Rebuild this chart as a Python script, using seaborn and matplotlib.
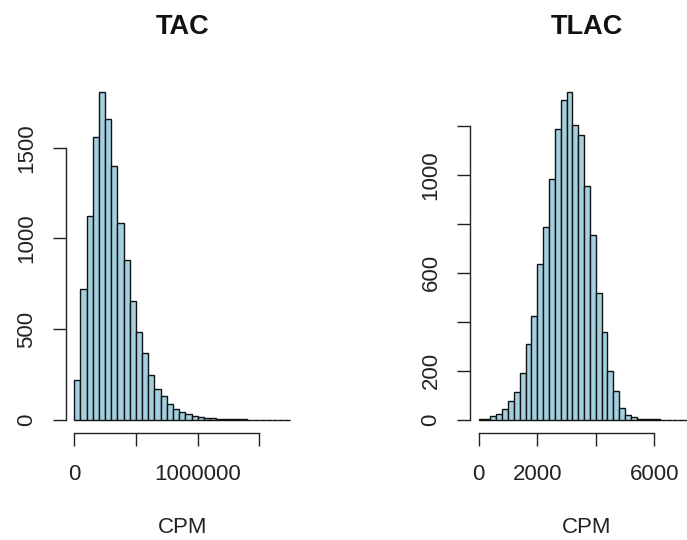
import matplotlib
matplotlib.use("Agg")
import matplotlib.pyplot as plt
import numpy as np
import pandas as pd
import seaborn as sns

# Histogram counts (R base hist style)
tac_start = 0
tac_width = 50000
tac_counts = [220, 722, 1123, 1562, 1807, 1658, 1397, 1085, 879, 658, 487, 370,
              245, 171, 134, 88, 61, 42, 33, 24, 18, 11, 8, 6, 5, 4, 3, 3, 2, 2,
              2, 1, 1, 1, 1]
tac_xticks = [0, 500000, 1000000, 1500000]
tac_xlabels = ["0", "", "1000000", ""]
tac_yticks = [0, 500, 1000, 1500]
tac_ylabels = ["0", "500", "1000", "1500"]

tlac_start = 0
tlac_width = 200
tlac_counts = [2, 4, 16, 24, 45, 76, 115, 193, 309, 424, 635, 786, 982, 1186,
               1303, 1337, 1204, 1161, 953, 753, 519, 357, 198, 119, 49, 19, 11,
               5, 3, 2, 2, 1, 1, 1, 0, 1, 1]
tlac_xticks = [0, 2000, 4000, 6000]
tlac_xlabels = ["0", "2000", "", "6000"]
tlac_yticks = [0, 200, 400, 600, 800, 1000, 1200]
tlac_ylabels = ["0", "200", "", "600", "", "1000", ""]

sns.set_style("white")
plt.rcParams["font.family"] = ["Liberation Sans", "DejaVu Sans"]

BAR = "#A3CFDF"
W, H = 687, 540

fig = plt.figure(figsize=(W / 100, H / 100), dpi=100)


def draw_panel(rect, start, width, counts, title, xticks, xlabels, yticks, ylabels):
    ax = fig.add_axes([rect[0] / W, 1 - rect[3] / H, (rect[2] - rect[0]) / W,
                       (rect[3] - rect[1]) / H])
    n = len(counts)
    edges = [start + width * i for i in range(n + 1)]
    df = pd.DataFrame({"mid": [e + width / 2 for e in edges[:-1]],
                       "count": counts})
    sns.histplot(data=df, x="mid", weights="count", bins=edges, ax=ax,
                 color=BAR, edgecolor="#111111", linewidth=1.0, alpha=1)
    lo, hi = edges[0], edges[-1]
    r = hi - lo
    ax.set_xlim(lo - 0.04 * r, hi + 0.04 * r)
    ymax = max(counts)
    ax.set_ylim(-0.04 * ymax, 1.04 * ymax)

    for s in ["top", "right"]:
        ax.spines[s].set_visible(False)
    for s in ["left", "bottom"]:
        ax.spines[s].set_color("#222222")
        ax.spines[s].set_linewidth(1.0)
    ax.spines["left"].set_bounds(yticks[0], yticks[-1])
    ax.spines["bottom"].set_bounds(xticks[0], xticks[-1])

    ax.set_xticks(xticks)
    ax.set_xticklabels(xlabels)
    ax.set_yticks(yticks)
    ax.set_yticklabels(ylabels, rotation=90, va="center")
    ax.tick_params(axis="both", direction="out", length=9.5, width=1.0,
                   color="#222222", labelsize=16, labelcolor="#222222",
                   left=True, bottom=True)
    ax.tick_params(axis="x", pad=13)
    ax.tick_params(axis="y", pad=11)

    ax.set_ylabel("")
    ax.set_xlabel("CPM", fontsize=16, color="#222222")
    ax.xaxis.set_label_coords(0.5, -0.268)
    ax.xaxis.label.set_va("center")
    ax.text(0.5, 1.148, title, transform=ax.transAxes, ha="center", va="center",
            fontsize=19.5, fontweight="bold", color="#111111")
    ax.grid(False)
    return ax


# rects in pixels: left, top, right, bottom
draw_panel((65.5, 79, 299, 433), tac_start, tac_width, tac_counts, "TAC",
           tac_xticks, tac_xlabels, tac_yticks, tac_ylabels)
draw_panel((470, 79, 704, 433), tlac_start, tlac_width, tlac_counts, "TLAC",
           tlac_xticks, tlac_xlabels, tlac_yticks, tlac_ylabels)

fig.savefig("out.png", dpi=100)
